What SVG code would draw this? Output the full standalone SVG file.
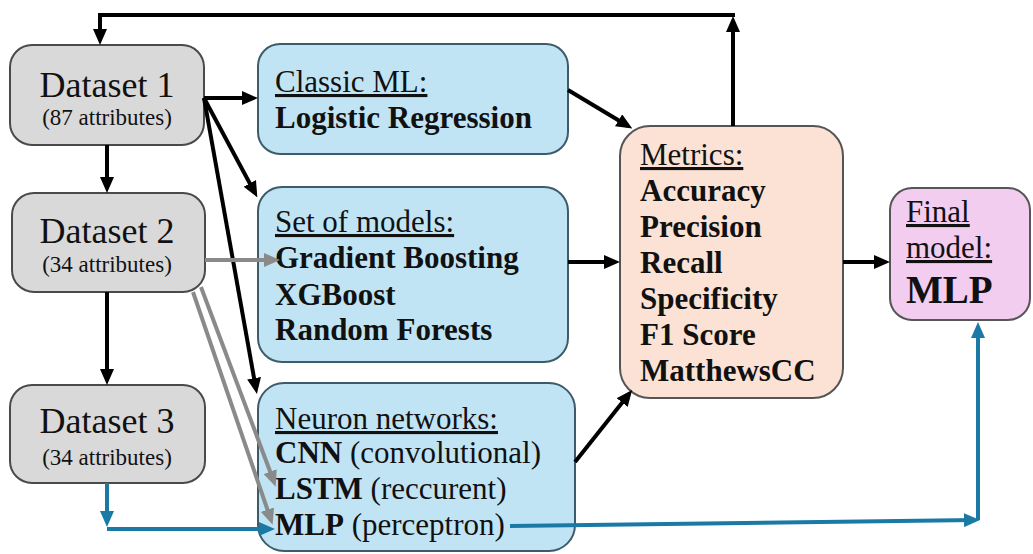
<svg xmlns="http://www.w3.org/2000/svg" width="1033" height="554" viewBox="0 0 1033 554">
<style>
text{font-family:"Liberation Serif","Times New Roman",serif;fill:#111}
.ds{fill:#d9d9d9;stroke:#4a4a4a;stroke-width:2}
.bl{fill:#c1e4f5;stroke:#3d5b6b;stroke-width:2}
.mt{fill:#fbe2d4;stroke:#555;stroke-width:2}
.fn{fill:#f2cdf0;stroke:#555;stroke-width:2}
.big{font-size:36px}
.sm{font-size:23px}
.t{font-size:31px}
.b{font-weight:bold}
.u{text-decoration:underline}
.k{fill:none;stroke:#000;stroke-width:4}
.g{fill:none;stroke:#8a8a8a;stroke-width:4}
.c{fill:none;stroke:#1b7aa5;stroke-width:4}
</style>
<defs>
<marker id="ak" markerUnits="userSpaceOnUse" markerWidth="16" markerHeight="14" viewBox="0 0 16 14" refX="11" refY="7" orient="auto"><path d="M0,0 L16,7 L0,14 z" fill="#000"/></marker>
<marker id="ag" markerUnits="userSpaceOnUse" markerWidth="16" markerHeight="14" viewBox="0 0 16 14" refX="11" refY="7" orient="auto"><path d="M0,0 L16,7 L0,14 z" fill="#8a8a8a"/></marker>
<marker id="ac" markerUnits="userSpaceOnUse" markerWidth="16" markerHeight="14" viewBox="0 0 16 14" refX="11" refY="7" orient="auto"><path d="M0,0 L16,7 L0,14 z" fill="#1b7aa5"/></marker>
</defs>
<g id="dataset1">
<rect class="ds" x="10" y="45" width="194" height="100" rx="22"/>
<text class="big" x="107" y="97" text-anchor="middle">Dataset 1</text>
<text class="sm" x="107" y="125" text-anchor="middle">(87 attributes)</text>
</g>
<g id="dataset2">
<rect class="ds" x="12" y="193" width="193" height="99" rx="22"/>
<text class="big" x="107" y="243" text-anchor="middle">Dataset 2</text>
<text class="sm" x="107" y="272" text-anchor="middle">(34 attributes)</text>
</g>
<g id="dataset3">
<rect class="ds" x="10" y="385" width="195" height="98" rx="22"/>
<text class="big" x="107" y="433" text-anchor="middle">Dataset 3</text>
<text class="sm" x="107" y="465" text-anchor="middle">(34 attributes)</text>
</g>
<g id="classic">
<rect class="bl" x="258" y="44" width="310" height="110" rx="22"/>
<text class="t u" x="275" y="92">Classic ML:</text>
<text class="t b" x="275" y="128">Logistic Regression</text>
</g>
<g id="setmodels">
<rect class="bl" x="258" y="187" width="310" height="175" rx="24"/>
<text class="t u" x="275" y="232">Set of models:</text>
<text class="t b" x="275" y="268">Gradient Boosting</text>
<text class="t b" x="275" y="305">XGBoost</text>
<text class="t b" x="275" y="340">Random Forests</text>
</g>
<g id="neuron">
<rect class="bl" x="258" y="383" width="317" height="168" rx="26"/>
<text class="t u" x="275" y="429">Neuron networks:</text>
<text class="t" x="275" y="463"><tspan class="b">CNN</tspan> (convolutional)</text>
<text class="t" x="275" y="499"><tspan class="b">LSTM</tspan> (reccurent)</text>
<text class="t" x="275" y="535"><tspan class="b">MLP</tspan> (perceptron)</text>
</g>
<g id="metrics">
<rect class="mt" x="620" y="126" width="223" height="272" rx="30"/>
<text class="t u" x="640" y="165">Metrics:</text>
<text class="t b" x="640" y="201">Accuracy</text>
<text class="t b" x="640" y="237">Precision</text>
<text class="t b" x="640" y="273">Recall</text>
<text class="t b" x="640" y="309">Specificity</text>
<text class="t b" x="640" y="345">F1 Score</text>
<text class="t b" x="640" y="381">MatthewsCC</text>
</g>
<g id="final">
<rect class="fn" x="890" y="188" width="140" height="132" rx="22"/>
<text class="t u" x="906" y="222">Final</text>
<text class="t u" x="906" y="258">model:</text>
<text class="b" x="906" y="303" font-size="39">MLP</text>
</g>
<g id="connectors">
<path class="k" d="M733,126 V21" marker-end="url(#ak)"/>
<path class="k" d="M735,15 H100 V40" marker-end="url(#ak)"/>
<path class="k" d="M204,98 H253" marker-end="url(#ak)"/>
<path class="k" d="M204,98 L255,193" marker-end="url(#ak)"/>
<path class="k" d="M204,98 L256,389" marker-end="url(#ak)"/>
<path class="k" d="M107,145 V188" marker-end="url(#ak)"/>
<path class="k" d="M107,292 V380" marker-end="url(#ak)"/>
<path class="g" d="M205,260 H275" marker-end="url(#ag)"/>
<path class="g" d="M201,287 L274,482" marker-end="url(#ag)"/>
<path class="g" d="M193,292 L271,520" marker-end="url(#ag)"/>
<path class="c" d="M107,483 V522" marker-end="url(#ac)"/>
<path class="c" d="M107,529 H270" marker-end="url(#ac)"/>
<path class="k" d="M568,90 L628,126" marker-end="url(#ak)"/>
<path class="k" d="M568,262 H615" marker-end="url(#ak)"/>
<path class="k" d="M575,462 L629,394" marker-end="url(#ak)"/>
<path class="k" d="M843,262 H885" marker-end="url(#ak)"/>
<path class="c" d="M510,526 L975,520" marker-end="url(#ac)"/>
<path class="c" d="M978,520 V327" marker-end="url(#ac)"/>
</g>
</svg>
